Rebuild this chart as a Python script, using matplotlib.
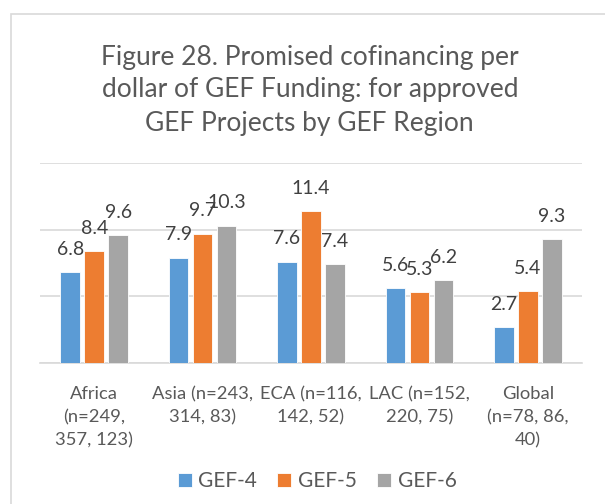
import matplotlib.pyplot as plt
import matplotlib.patches as mpatches
import numpy as np

# Data
regions = ['Africa\n(n=249,\n357, 123)', 'Asia (n=243,\n314, 83)', 'ECA (n=116,\n142, 52)',
           'LAC (n=152,\n220, 75)', 'Global\n(n=78, 86,\n40)']
series_names = ['GEF-4', 'GEF-5', 'GEF-6']
gef4 = [6.8, 7.9, 7.6, 5.6, 2.7]
gef5 = [8.4, 9.7, 11.4, 5.3, 5.4]
gef6 = [9.6, 10.3, 7.4, 6.2, 9.3]
colors = ['#5B9BD5', '#ED7D31', '#A5A5A5']

plt.rcParams['font.family'] = ['Lato', 'DejaVu Sans']
text_color = '#404040'

fig = plt.figure(figsize=(6.05, 5.04), dpi=100)
ax = fig.add_axes([0.0661, 0.2798, 0.8959, 0.3968])

# chart border (cropped on right/bottom like the reference)
fig.patches.append(mpatches.Rectangle((11 / 605, -0.05), 1.1, 1 - 14 / 504 + 0.05,
                                      transform=fig.transFigure, fill=False,
                                      edgecolor='#D9D9D9', linewidth=1.2))

x = np.arange(len(regions))
width = 0.18
step = 0.221
for i, (vals, name) in enumerate(zip([gef4, gef5, gef6], series_names)):
    pos = x + (i - 1) * step
    bars = ax.bar(pos, vals, width, color=colors[i], label=name,
                  edgecolor='white', linewidth=0.6, zorder=3)
    for b, v in zip(bars, vals):
        ax.annotate(f'{v}', (b.get_x() + b.get_width() / 2, v),
                    xytext=(0, 16.5), textcoords='offset points',
                    ha='center', va='center', fontsize=14, color=text_color)

ax.set_ylim(0, 15)
ax.set_xlim(-0.5, len(regions) - 0.5)
ax.set_yticks([0, 5, 10, 15])
ax.yaxis.grid(True, color='#D9D9D9', linewidth=1.2, zorder=0)
ax.tick_params(axis='y', left=False, labelleft=False)
ax.tick_params(axis='x', bottom=False, pad=13)
ax.set_xticks(x)
ax.set_xticklabels(regions, fontsize=13.2, color='#595959', linespacing=1.55)
for s in ['top', 'right', 'left']:
    ax.spines[s].set_visible(False)
ax.spines['bottom'].set_color('#D9D9D9')
ax.spines['bottom'].set_linewidth(1.2)

fig.text(0.512, 1 - 90 / 504,
         'Figure 28. Promised cofinancing per\ndollar of GEF Funding: for approved\nGEF Projects by GEF Region',
         ha='center', va='center', fontsize=19, color='#595959', linespacing=1.4)

fig.legend(loc='center', bbox_to_anchor=(317 / 605, 1 - 481 / 504), ncol=3, frameon=False,
           fontsize=15, handlelength=0.67, handleheight=0.67, handletextpad=0.3,
           columnspacing=1.0, labelcolor='#595959')

fig.savefig('out.png', dpi=100)
